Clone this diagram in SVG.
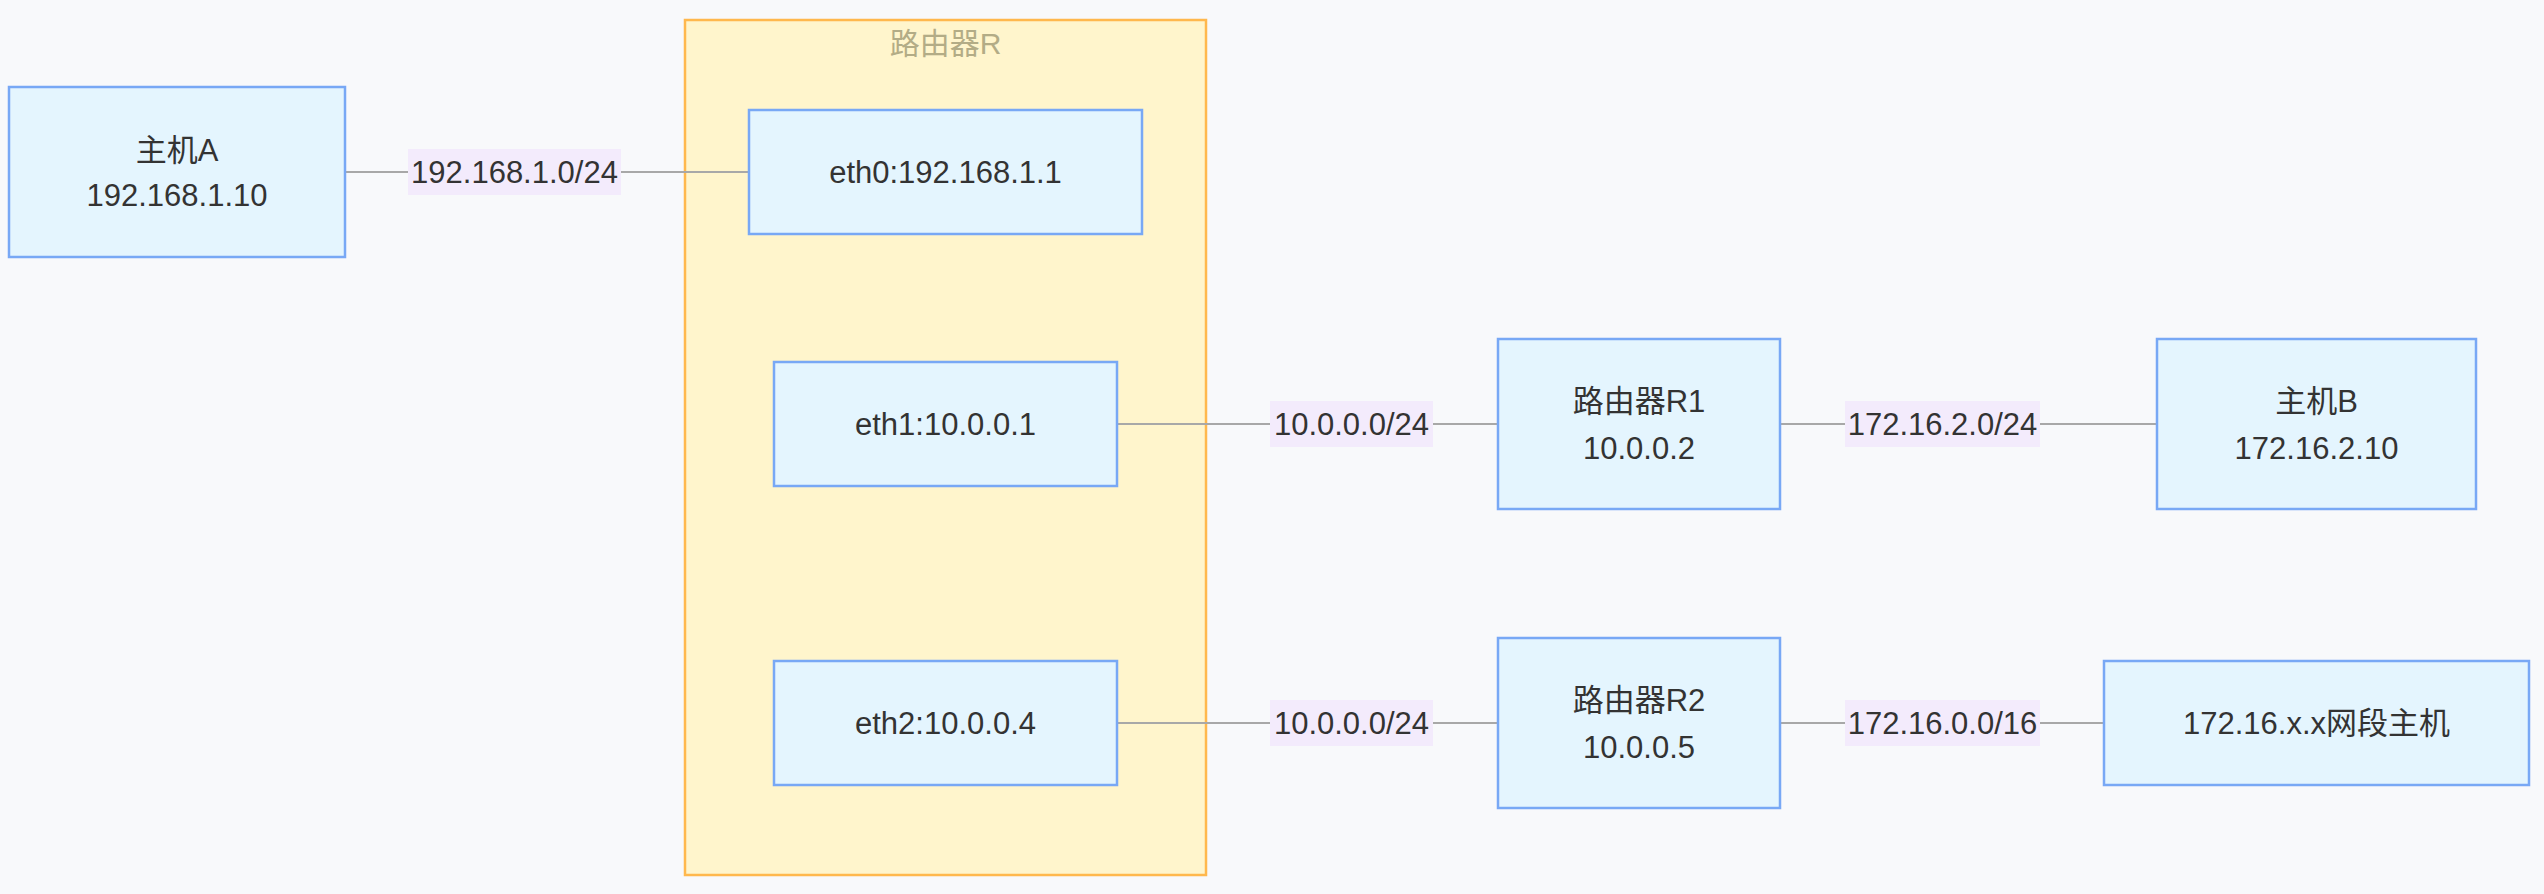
<svg xmlns="http://www.w3.org/2000/svg" width="2544" height="894" viewBox="0 0 2544 894">
<style>
.bg{fill:#f8f9fb}
.cl{fill:#fff5cc;stroke:#ffb84d;stroke-width:2.5}
.ct{font-family:'Liberation Sans','Noto Sans CJK SC',sans-serif;font-size:30px;fill:#b3ac86;text-anchor:middle}
.nd{fill:#e4f5fe;stroke:#78a8f5;stroke-width:2.5}
.t{font-family:'Liberation Sans','Noto Sans CJK SC',sans-serif;font-size:31px;fill:#333;text-anchor:middle}
.e{stroke:#a8a8a8;stroke-width:2;fill:none}
.lb{fill:#f3ebfc}
</style>
<rect class="bg" x="0" y="0" width="2544" height="894"/>
<g id="cluster-R">
<rect class="cl" x="685" y="20" width="521" height="855"/>
<text class="ct" x="945.5" y="54">路由器R</text>
</g>
<g id="connectors">
<line class="e" x1="345" y1="172" x2="749" y2="172"/>
<line class="e" x1="1117" y1="424" x2="1498" y2="424"/>
<line class="e" x1="1780" y1="424" x2="2157" y2="424"/>
<line class="e" x1="1117" y1="723" x2="1498" y2="723"/>
<line class="e" x1="1780" y1="723" x2="2104" y2="723"/>
<rect class="lb" x="408" y="149" width="213" height="46"/>
<text class="t" x="514.5" y="183">192.168.1.0/24</text>
<rect class="lb" x="1270" y="401" width="163" height="46"/>
<text class="t" x="1351.5" y="435">10.0.0.0/24</text>
<rect class="lb" x="1845" y="401" width="195" height="46"/>
<text class="t" x="1942.5" y="435">172.16.2.0/24</text>
<rect class="lb" x="1270" y="700" width="163" height="46"/>
<text class="t" x="1351.5" y="734">10.0.0.0/24</text>
<rect class="lb" x="1845" y="700" width="195" height="46"/>
<text class="t" x="1942.5" y="734">172.16.0.0/16</text>
</g>
<g id="hostA">
<rect class="nd" x="9" y="87" width="336" height="170"/>
<text class="t" x="177" y="161">主机A</text>
<text class="t" x="177" y="206">192.168.1.10</text>
</g>
<g id="eth0">
<rect class="nd" x="749" y="110" width="393" height="124"/>
<text class="t" x="945.5" y="183">eth0:192.168.1.1</text>
</g>
<g id="eth1">
<rect class="nd" x="774" y="362" width="343" height="124"/>
<text class="t" x="945.5" y="435">eth1:10.0.0.1</text>
</g>
<g id="eth2">
<rect class="nd" x="774" y="661" width="343" height="124"/>
<text class="t" x="945.5" y="734">eth2:10.0.0.4</text>
</g>
<g id="R1">
<rect class="nd" x="1498" y="339" width="282" height="170"/>
<text class="t" x="1639" y="412">路由器R1</text>
<text class="t" x="1639" y="459">10.0.0.2</text>
</g>
<g id="hostB">
<rect class="nd" x="2157" y="339" width="319" height="170"/>
<text class="t" x="2316.5" y="412">主机B</text>
<text class="t" x="2316.5" y="459">172.16.2.10</text>
</g>
<g id="R2">
<rect class="nd" x="1498" y="638" width="282" height="170"/>
<text class="t" x="1639" y="711">路由器R2</text>
<text class="t" x="1639" y="758">10.0.0.5</text>
</g>
<g id="netHost">
<rect class="nd" x="2104" y="661" width="425" height="124"/>
<text class="t" x="2316.5" y="734">172.16.x.x网段主机</text>
</g>
</svg>
